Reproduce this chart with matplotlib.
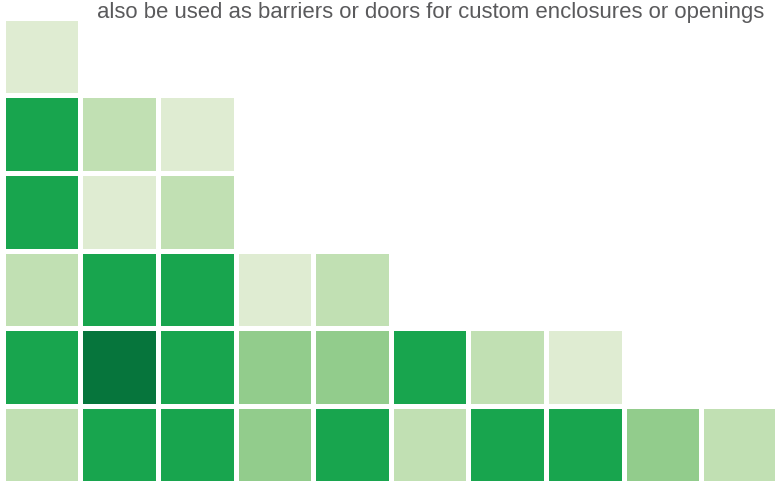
import numpy as np
import matplotlib.pyplot as plt
from matplotlib.colors import ListedColormap, BoundaryNorm

# color levels 1..5 (palest -> darkest), 0 = empty
row1 = [1]
row2 = [4, 2, 1]
row3 = [4, 1, 2]
row4 = [2, 4, 4, 1, 2]
row5 = [4, 5, 4, 3, 3, 4, 2, 1]
row6 = [2, 4, 4, 3, 4, 2, 4, 4, 3, 2]
rows = [row1, row2, row3, row4, row5, row6]

palette = ['#dfecd2', '#c1e0b3', '#92cc8c', '#18a54e', '#06753c']
caption = 'also be used as barriers or doors for custom enclosures or openings'

ncol = 10
grid = np.zeros((len(rows), ncol))
for i, r in enumerate(rows):
    grid[i, :len(r)] = r
grid = np.ma.masked_equal(grid, 0)

cmap = ListedColormap(palette)
norm = BoundaryNorm(np.arange(0.5, 6.5, 1), cmap.N)

fig = plt.figure(figsize=(7.75, 4.86), dpi=100)
pitch = 77.6
ax = fig.add_axes([2.75 / 775, (486 - 483.35) / 486, ncol * pitch / 775, 6 * pitch / 486])
ax.pcolormesh(grid, cmap=cmap, norm=norm, edgecolors='white', linewidth=3.3)
ax.set_xlim(0, ncol)
ax.set_ylim(len(rows), 0)
ax.axis('off')

fig.text(97 / 775, (486 - 18) / 486, caption, color='#5a5a5c', fontsize=15.9,
         family=['Liberation Sans', 'DejaVu Sans'], va='baseline', ha='left')

fig.savefig('out.png', dpi=100)
